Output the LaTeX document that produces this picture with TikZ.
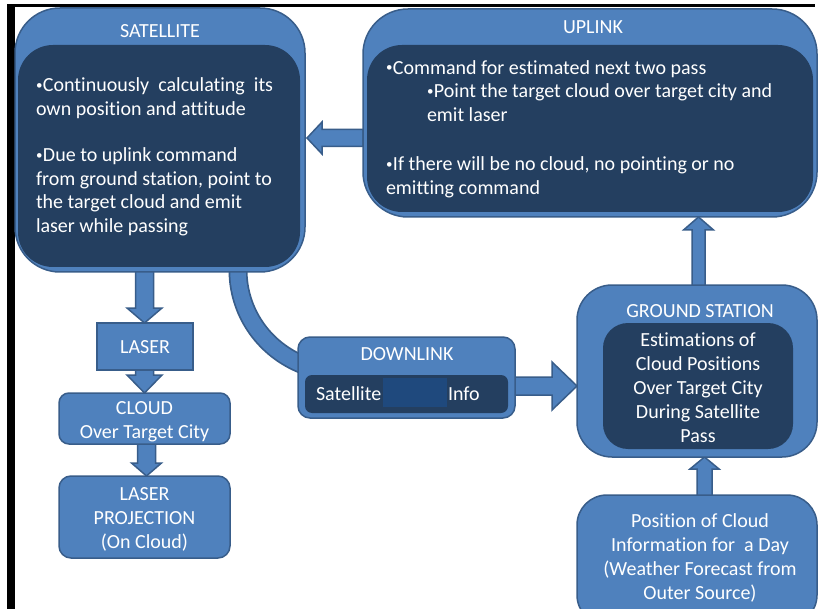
\documentclass[tikz,border=0pt]{standalone}
\usepackage{fontspec}
\setmainfont[Ligatures=NoCommon]{Carlito}
\usetikzlibrary{calc,backgrounds}
\definecolor{boxblue}{HTML}{4F81BD}
\definecolor{edgeblue}{HTML}{385D8A}
\definecolor{navy}{HTML}{243F60}
\definecolor{hlblue}{HTML}{1F497D}
\newcommand{\lftlines}[1]{\vtop{\halign{##\hfil\cr#1\crcr}}}
\newcommand{\ctrlines}[1]{\vtop{\halign{\hfil##\hfil\cr#1\crcr}}}
\newcommand{\bul}{\raisebox{2.5pt}{\fontsize{13}{13}\selectfont •}\kern0.5pt}
% #1 start, #2 tip, #3 shaft half width, #4 head half width, #5 head length
\newcommand{\blockarrow}[5]{%
  \coordinate (bab) at ($(#2)!#5!(#1)$);
  \filldraw[arrowbody] ($(#1)!#3!90:(#2)$) -- ($(bab)!#3!90:(#2)$) -- ($(bab)!#4!90:(#2)$) -- (#2)
    -- ($(bab)!#4!-90:(#2)$) -- ($(bab)!#3!-90:(#2)$) -- ($(#1)!#3!-90:(#2)$) -- cycle;
}
\begin{document}
\begin{tikzpicture}[x=1pt,y=-1pt,
  outerbox/.style={fill=boxblue, draw=edgeblue, line width=1.5pt, inner sep=0pt, outer sep=0pt},
  innerbox/.style={fill=navy, draw=none, inner sep=0pt, outer sep=0pt},
  txt/.style={text=white, inner sep=0pt, outer sep=0pt, font=\fontsize{20}{24}\selectfont},
  arrowbody/.style={fill=boxblue, draw=edgeblue, line width=1.5pt, line join=miter},
]
\useasboundingbox (0,0) rectangle (818,609);

% frame
\fill[black] (7,4) rectangle (815,7);
\fill[black] (7,4) rectangle (15,609);

% boxes
\node[outerbox, rounded corners=45pt, minimum width=290pt, minimum height=264pt] (sat) at (160,140) {};
\node[innerbox, rounded corners=35pt, minimum width=282pt, minimum height=222pt] (satin) at (159,156) {};
\node[outerbox, rounded corners=45pt, minimum width=454pt, minimum height=208pt] (uplink) at (590,113) {};
\node[innerbox, rounded corners=35pt, minimum width=446pt, minimum height=167pt] (upin) at (590,128.5) {};
\node[outerbox, rounded corners=35pt, minimum width=240pt, minimum height=172pt] (gs) at (697,371) {};
\node[innerbox, rounded corners=25pt, minimum width=190pt, minimum height=126pt] (gsin) at (698,386) {};
\node[outerbox, rounded corners=30pt, minimum width=240pt, minimum height=130pt] (fc) at (697,560) {};
\node[outerbox, rounded corners=12pt, minimum width=217pt, minimum height=81pt] (down) at (406.5,377.5) {};
\node[innerbox, rounded corners=7pt, minimum width=203pt, minimum height=38pt] (downin) at (406.5,394) {};
\node[fill=hlblue, inner sep=0pt, minimum width=64pt, minimum height=29pt] (downhl) at (415,392.5) {};
\node[outerbox, minimum width=96pt, minimum height=47pt] (laser) at (145,346.5) {};
\node[outerbox, rounded corners=10pt, minimum width=171pt, minimum height=51pt] (cloud) at (144.5,418.5) {};
\node[outerbox, rounded corners=12pt, minimum width=171pt, minimum height=82pt] (proj) at (144.5,517) {};

% texts
\node[txt, anchor=base] (sattitle) at (160,38) {SATELLITE};
\node[txt, anchor=base] (uptitle) at (593,34) {UPLINK};
\node[txt, anchor=base] (gstitle) at (700,317) {GROUND STATION};
\node[txt, anchor=base] (downtitle) at (407,360) {DOWNLINK};
\node[txt, anchor=base west, font=\fontsize{20}{23.5}\selectfont] (sattext) at (36,92) {\lftlines{%
\bul Continuously\ \ calculating\ \ its\cr
own position and attitude\cr
\noalign{\vskip23pt}
\bul Due to uplink command\cr
from ground station, point to\cr
the target cloud and emit\cr
laser while passing\cr}};
\node[txt, anchor=base west, font=\fontsize{20}{23.5}\selectfont] (uptext) at (386,74.5) {\lftlines{%
\bul Command for estimated next two pass\cr
\kern41pt \bul Point the target cloud over target city and\cr
\kern41pt emit laser\cr
\noalign{\vskip26pt}
\bul If there will be no cloud, no pointing or no\cr
emitting command\cr}};
\node[txt, anchor=base] (gstext) at (698,346) {\ctrlines{%
Estimations of\cr
Cloud Positions\cr
Over Target City\cr
During Satellite\cr
Pass\cr}};
\node[txt, anchor=base] (fctext) at (700,527) {\ctrlines{%
Position of Cloud\cr
Information for\ \ a Day\cr
(Weather Forecast from\cr
Outer Source)\cr}};
\node[txt, anchor=base west] (downsat) at (316,400) {Satellite};
\node[txt, anchor=base west] (downinfo) at (448,400) {Info};
\node[txt, anchor=base] (lasertext) at (145,353) {LASER};
\node[txt, anchor=base] (cloudtext) at (144.5,414) {\ctrlines{%
CLOUD\cr
Over Target City\cr}};
\node[txt, anchor=base] (projtext) at (144.5,500) {\ctrlines{%
LASER\cr
PROJECTION\cr
(On Cloud)\cr}};

% connectors
\coordinate (a1s) at ($(uplink.west)+(0,25)$);
\coordinate (a1t) at ($(sat.east |- a1s)+(2,0)$);
\coordinate (a2s) at ($(gs.north)+(1.5,2)$);
\coordinate (a2t) at (a2s |- uplink.south);
\coordinate (a3s) at ($(fc.north)+(7.5,2)$);
\coordinate (a3t) at (a3s |- gs.south);
\coordinate (a4s) at ($(down.east)+(-2,8.5)$);
\coordinate (a4t) at (a4s -| gs.west);
\coordinate (a5s) at ($(laser.north |- sat.south)+(-0.5,-2)$);
\coordinate (a5t) at ($(laser.north)+(-0.5,0)$);
\coordinate (a6s) at ($(laser.south)+(-0.5,-2)$);
\coordinate (a6t) at (a6s |- cloud.north);
\coordinate (a7s) at ($(cloud.south)+(2,-2)$);
\coordinate (a7t) at (a7s |- proj.north);
\coordinate (c1) at ($(sat.south west)+(223,-2)$);
\coordinate (c2) at ($(down.west)+(2,-14)$);

\begin{pgfonlayer}{background}
\fill[white] (0,0) rectangle (818,609);
\blockarrow{a1s}{a1t}{8.5pt}{16pt}{15pt}
\blockarrow{a2s}{a2t}{6.5pt}{15pt}{13pt}
\blockarrow{a3s}{a3t}{7.5pt}{14.5pt}{12pt}
\blockarrow{a4s}{a4t}{9pt}{24pt}{25pt}
\blockarrow{a5s}{a5t}{9pt}{17.5pt}{15pt}
\blockarrow{a6s}{a6t}{9pt}{17.5pt}{18pt}
\blockarrow{a7s}{a7t}{9pt}{15pt}{13pt}
\draw[edgeblue, line width=19pt] ($(c1)+(0,-12)$) -- (c1) .. controls +(0,41) and +(-37.5,-16.2) .. (c2) -- +(10,4.3);
\draw[boxblue, line width=15.5pt] ($(c1)+(0,-12)$) -- (c1) .. controls +(0,41) and +(-37.5,-16.2) .. (c2) -- +(10,4.3);
\end{pgfonlayer}
\end{tikzpicture}
\end{document}
